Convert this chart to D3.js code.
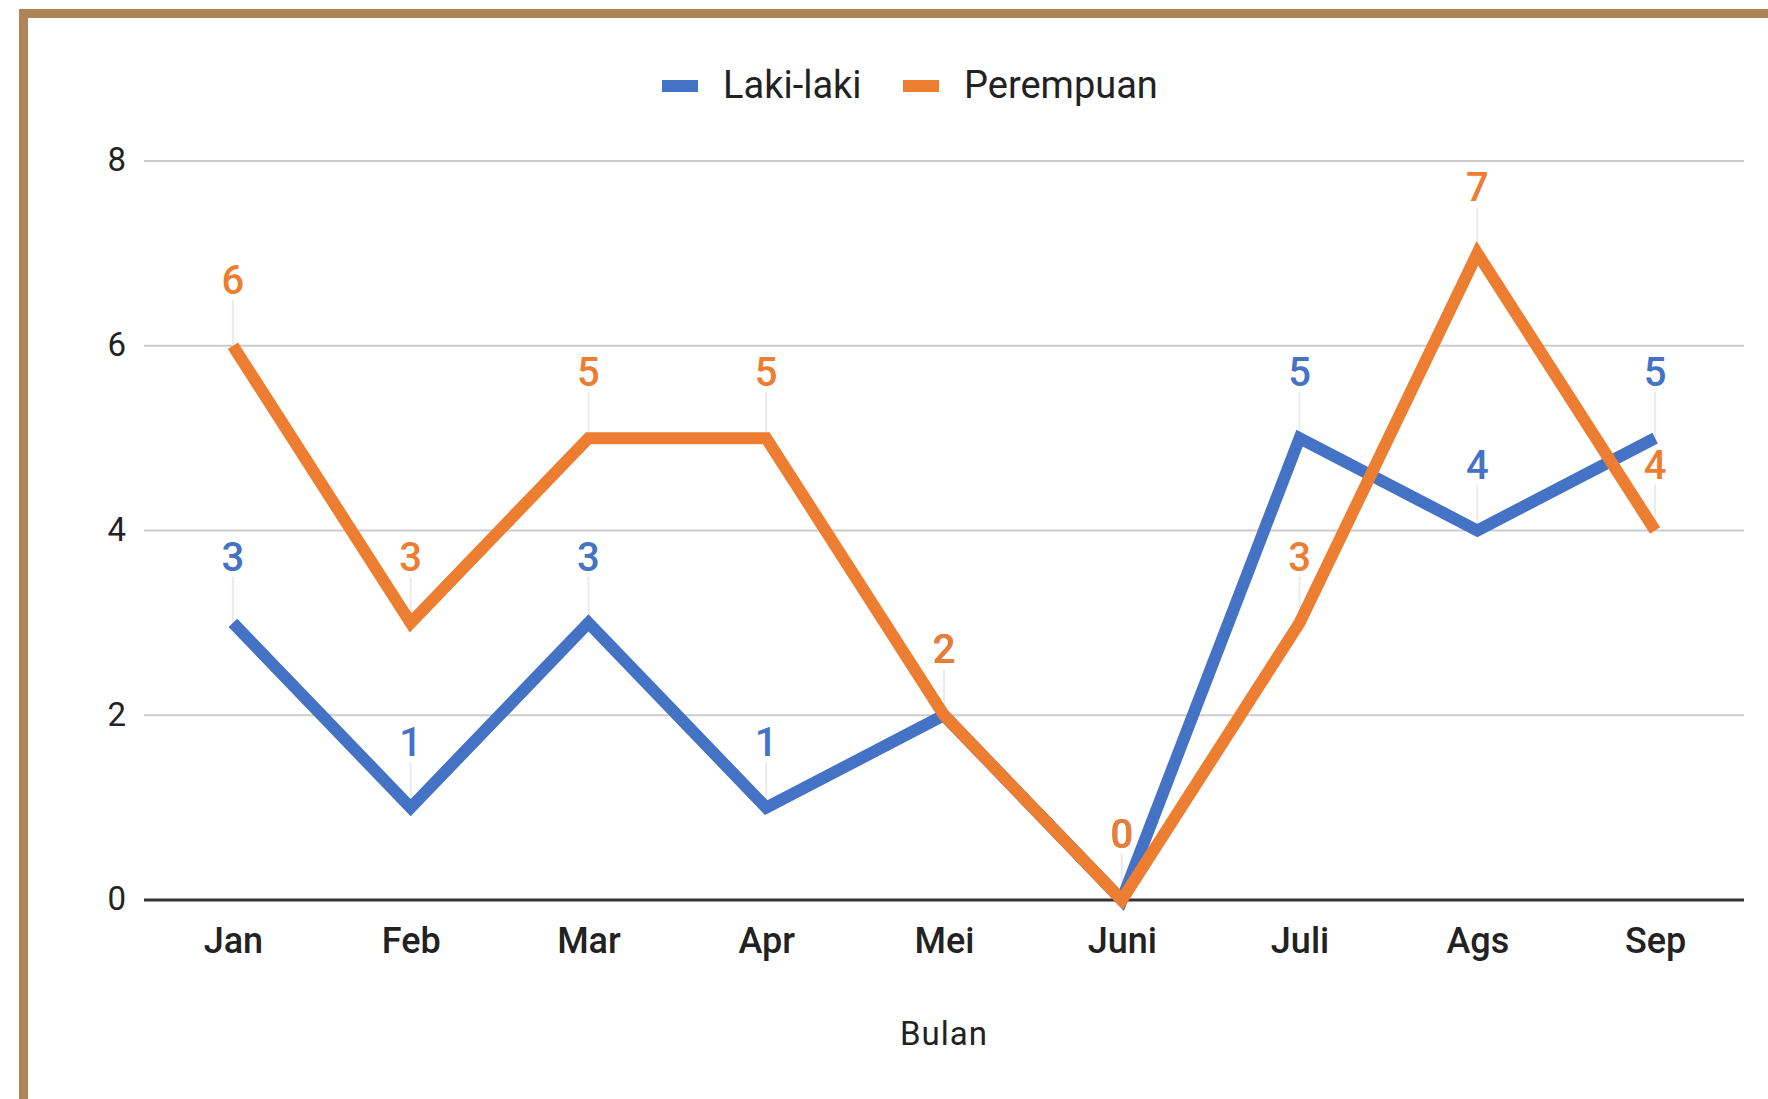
<!DOCTYPE html>
<html>
<head>
<meta charset="utf-8">
<script src="https://cdn.jsdelivr.net/npm/d3@7/dist/d3.min.js"></script>
<style>
  html, body { margin: 0; padding: 0; background: #fff; }
  svg { display: block; }
  text { font-family: Roboto, "Noto Sans", sans-serif; }
</style>
</head>
<body>
<svg id="chart" width="1768" height="1099"></svg>
<script>
const categories = ["Jan", "Feb", "Mar", "Apr", "Mei", "Juni", "Juli", "Ags", "Sep"];
const lakiLaki   = [3, 1, 3, 1, 2, 0, 5, 4, 5];
const perempuan  = [6, 3, 5, 5, 2, 0, 3, 7, 4];
const seriesNames = ["Laki-laki", "Perempuan"];
const seriesColors = ["#4472C4", "#ED7D31"];
const yTicks = [0, 2, 4, 6, 8];
const xTitle = "Bulan";

const series = [
  { name: seriesNames[0], color: seriesColors[0], values: lakiLaki },
  { name: seriesNames[1], color: seriesColors[1], values: perempuan }
];

const svg = d3.select("#chart");

// frame (top + left border visible)
svg.append("rect")
  .attr("x", 23.5).attr("y", 13.5)
  .attr("width", 1800).attr("height", 1200)
  .attr("fill", "none")
  .attr("stroke", "#AF8458")
  .attr("stroke-width", 9);

const plot = { left: 144, right: 1744, top: 161, bottom: 900 };

const x = d3.scalePoint()
  .domain(categories)
  .range([plot.left, plot.right])
  .padding(0.5);

const y = d3.scaleLinear()
  .domain([0, 8])
  .range([plot.bottom, plot.top]);

// gridlines
svg.append("g")
  .selectAll("line")
  .data(yTicks.filter(d => d !== 0))
  .join("line")
  .attr("x1", plot.left).attr("x2", plot.right)
  .attr("y1", d => y(d)).attr("y2", d => y(d))
  .attr("stroke", "#cccccc")
  .attr("stroke-width", 2);

// y axis labels
const yAxis = d3.axisLeft(y).tickValues(yTicks).tickSize(0).tickPadding(0);
const yg = svg.append("g").attr("transform", `translate(${plot.left - 18},0)`).call(yAxis);
yg.select(".domain").remove();
yg.selectAll("text")
  .attr("font-size", 33)
  .attr("fill", "#222")
  .attr("dy", "0.30em")
  .style("font-family", "Roboto, sans-serif");

// x axis labels
const xAxis = d3.axisBottom(x).tickSize(0).tickPadding(0);
const xg = svg.append("g").attr("transform", `translate(0,${plot.bottom})`).call(xAxis);
xg.select(".domain").remove();
xg.selectAll("text")
  .attr("y", 53)
  .attr("dy", 0)
  .attr("font-size", 36)
  .attr("font-weight", 500)
  .attr("fill", "#222")
  .style("font-family", "Roboto, sans-serif");

// x title
svg.append("text")
  .attr("x", (plot.left + plot.right) / 2)
  .attr("y", 1045)
  .attr("text-anchor", "middle")
  .attr("font-size", 33)
  .attr("fill", "#222")
  .attr("letter-spacing", 1)
  .text(xTitle);

// leader lines
const labelOffset = 52;
series.forEach(s => {
  svg.append("g")
    .selectAll("line")
    .data(s.values)
    .join("line")
    .attr("x1", (d, i) => x(categories[i]))
    .attr("x2", (d, i) => x(categories[i]))
    .attr("y1", d => y(d) - labelOffset + 6)
    .attr("y2", d => y(d))
    .attr("stroke", "#ebebeb")
    .attr("stroke-width", 2);
});

// zero axis line
svg.append("line")
  .attr("x1", plot.left).attr("x2", plot.right)
  .attr("y1", y(0)).attr("y2", y(0))
  .attr("stroke", "#333")
  .attr("stroke-width", 3);

// series lines
const line = d3.line()
  .x((d, i) => x(categories[i]))
  .y(d => y(d));

series.forEach(s => {
  svg.append("path")
    .datum(s.values)
    .attr("d", line)
    .attr("fill", "none")
    .attr("stroke", s.color)
    .attr("stroke-width", 12)
    .attr("stroke-linejoin", "miter")
    .attr("stroke-linecap", "butt");
});

// data labels
series.forEach(s => {
  svg.append("g")
    .selectAll("text")
    .data(s.values)
    .join("text")
    .attr("x", (d, i) => x(categories[i]))
    .attr("y", d => y(d) - labelOffset)
    .attr("text-anchor", "middle")
    .attr("font-size", 40)
    .attr("font-weight", 500)
    .attr("fill", s.color)
    .text(d => d);
});

// legend
const legend = svg.append("g");
const legendItems = [
  { name: seriesNames[0], color: seriesColors[0], sx: 662, tx: 723 },
  { name: seriesNames[1], color: seriesColors[1], sx: 903, tx: 964 }
];
legendItems.forEach(it => {
  legend.append("rect")
    .attr("x", it.sx).attr("y", 80)
    .attr("width", 36).attr("height", 12)
    .attr("fill", it.color);
  legend.append("text")
    .attr("x", it.tx).attr("y", 98)
    .attr("font-size", 38)
    .attr("fill", "#222")
    .text(it.name);
});
</script>
</body>
</html>
